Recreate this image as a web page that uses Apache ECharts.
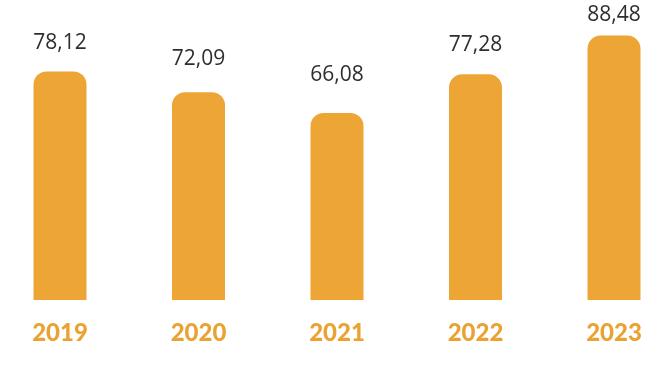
<!DOCTYPE html>
<html><head><meta charset="utf-8">
<script src="https://cdn.jsdelivr.net/npm/echarts@6/dist/echarts.min.js"></script>
<style>html,body{margin:0;padding:0;background:#fff}#c{width:672px;height:380px}</style>
</head><body><div id="c"></div>
<script>
const years = ['2019', '2020', '2021', '2022', '2023'];
const values = [78.12, 72.09, 66.08, 77.28, 88.48];
const valueLabels = ['78,12', '72,09', '66,08', '77,28', '88,48'];

const chart = echarts.init(document.getElementById('c'), null, {renderer: 'canvas'});
chart.setOption({
  animation: false,
  backgroundColor: '#ffffff',
  grid: {left: 60, right: 58, top: 20, bottom: 80},
  xAxis: {
    type: 'category', data: years, boundaryGap: false,
    axisLine: {show: false}, axisTick: {show: false},
    axisLabel: {margin: 21, color: '#EAA232', fontSize: 24, fontWeight: 900, fontFamily: 'Lato'}
  },
  yAxis: [
    {type: 'value', min: 12, max: 93, show: false, splitLine: {show: false}},
    {type: 'value', min: -13, max: 90.6, show: false, splitLine: {show: false}}
  ],
  series: [{
    type: 'bar', data: values, barWidth: 53, yAxisIndex: 0,
    itemStyle: {color: '#EDA536', borderRadius: [13, 13, 0, 0]}
  }, {
    type: 'scatter', data: values, yAxisIndex: 1, symbolSize: 1, silent: true,
    itemStyle: {color: 'rgba(0,0,0,0)', opacity: 1},
    label: {
      show: true, position: 'top', distance: 0,
      formatter: p => valueLabels[p.dataIndex],
      color: '#2e2e2e', fontSize: 21, fontFamily: 'Open Sans'
    }
  }]
});
</script></body></html>
